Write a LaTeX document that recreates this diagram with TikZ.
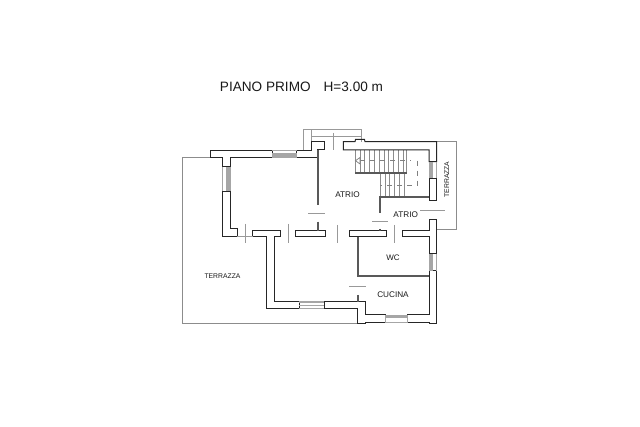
\documentclass[tikz,border=0pt]{standalone}
\usepackage{fontspec}
\setmainfont{Liberation Sans}
\usetikzlibrary{arrows.meta}
\tikzset{
  wall/.style={draw=black!85,line width=1pt,line join=miter},
  thick wall/.style={draw=black!65,line width=2pt},
  thin/.style={draw=black!40,line width=0.8pt},
  outline/.style={draw=black!45,line width=1pt},
  stair/.style={draw=black!45,line width=0.6pt},
  glass/.style={draw=black!35,line width=0.9pt},
  band/.style={fill=black!35,draw=none},
  walk/.style={draw=black!50,line width=0.7pt,dash pattern=on 5pt off 5pt},
  lbl/.style={inner sep=0pt,text=black!90}
}
\begin{document}
\begin{tikzpicture}[x=1pt,y=-1pt]
\useasboundingbox (0,0) rectangle (640,427);
\fill[white] (0,0) rectangle (640,427);
% terraces
\draw[outline] (210,157.7) -- (182,157.7) -- (182,324) -- (358,324);
\draw[outline] (436.7,141.7) -- (456,141.7) -- (456,229.3) -- (436.7,229.3);
% entrance balcony
\draw[thin] (303.3,150) -- (303.3,129.3) -- (361.7,129.3) -- (361.7,141.7);
\draw[thin] (311.3,129.3) -- (311.3,141.7);
\draw[thin] (311.3,136.4) -- (361.7,136.4);
% stairs treads
\foreach \x in {355,359.8,364.6,369.4,374.2,379,383.8,388.6,393.4,398.2,403,406.5}
  \draw[stair] (\x,150) -- (\x,172);
\foreach \x in {380,384.8,389.6,394.4,399.2,404}
  \draw[stair] (\x,174) -- (\x,196);
\draw[walk] (360,160.7) -- (411,160.7);
\draw[walk] (417.3,160.7) -- (417.3,185) -- (380,185);
\draw[draw=black!50,line width=0.7pt] (360,157.5) -- (355.5,160.7) -- (360,164) -- cycle;
% exterior walls
\draw[wall] (210,150.3) -- (272.3,150.3) -- (272.3,157.7) -- (230,157.7) -- (230,167) -- (222,167) -- (222,157.7) -- (210,157.7) -- cycle;
\draw[wall] (222,191.3) -- (230,191.3) -- (230,228.7) -- (237.3,228.7) -- (237.3,236.7) -- (222,236.7) -- cycle;
\draw[wall] (296.7,150.3) -- (311.3,150.3) -- (311.3,141.7) -- (324,141.7) -- (324,150) -- (317,150) -- (317,157.7) -- (296.7,157.7) -- cycle;
\draw[wall] (252.7,231) -- (280,231) -- (280,236.7) -- (274,236.7) -- (274,301.7) -- (299,301.7) -- (299,309) -- (266.7,309) -- (266.7,236.7) -- (252.7,236.7) -- cycle;
\draw[wall] (324,301.7) -- (365,301.7) -- (365,315) -- (385,315) -- (385,322.7) -- (365,322.7) -- (365,324) -- (357.3,324) -- (357.3,309) -- (324,309) -- cycle;
\draw[wall] (407.3,315) -- (429,315) -- (429,270.7) -- (436.7,270.7) -- (436.7,324) -- (429,324) -- (429,322.7) -- (407.3,322.7) -- cycle;
\draw[wall] (343.3,141.7) -- (355,141.7) -- (355.5,139.5) -- (364.5,139.5) -- (365,141.7) -- (436.7,141.7) -- (436.7,161.7) -- (429,161.7) -- (429,150) -- (343.3,150) -- cycle;
\draw[wall] (429,178.3) -- (436.7,178.3) -- (436.7,200.3) -- (429,200.3) -- cycle;
\draw[wall] (429,219.3) -- (436.7,219.3) -- (436.7,254) -- (429,254) -- (429,236.7) -- (402.3,236.7) -- (402.3,231) -- (429,231) -- cycle;
\draw[wall] (295.7,231) -- (325.7,231) -- (325.7,236.7) -- (295.7,236.7) -- cycle;
\draw[wall] (349.3,231) -- (386.7,231) -- (386.7,236.7) -- (349.3,236.7) -- cycle;
% interior heavy walls
\draw[thick wall] (318.3,150) -- (318.3,205);
\draw[thick wall] (318.3,221.7) -- (318.3,231);
\draw[thick wall] (355,172.7) -- (406.7,172.7);
\draw[thick wall] (380,197.3) -- (429,197.3);
\draw[thick wall] (380,196.3) -- (380,213.3);
\draw[thick wall] (358.3,236.7) -- (358.3,277);
\draw[thick wall] (358.3,275.7) -- (429,275.7);
\draw[thick wall] (358.3,295) -- (358.3,301.7);
\draw[draw=black!70,line width=1.2pt] (380,229) -- (380,231);
% windows
\draw[glass] (222,167) -- (222,191.3) (230,167) -- (230,191.3);
\fill[band] (226,167) rectangle (230,191.3);
\draw[glass] (272.3,150.5) -- (296.7,150.5);
\fill[band] (272.3,153.5) rectangle (296.7,157.7);
\fill[band] (429,161.7) rectangle (433,178.3);
\draw[glass] (436.7,161.7) -- (436.7,178.3);
\fill[band] (429,254) rectangle (433,270.7);
\draw[glass] (436.7,254) -- (436.7,270.7);
\fill[band] (299,301) rectangle (324,303);
\draw[glass] (299,305) -- (324,305) (299,308.5) -- (324,308.5);
\fill[band] (385,315) rectangle (407.3,318);
\draw[glass] (385,322.7) -- (407.3,322.7) (385,315) -- (385,322.7) (407.3,315) -- (407.3,322.7);
% door marks
\draw[thin] (245,224) -- (245,243);
\draw[thin] (288,224) -- (288,243);
\draw[thin] (337.7,225) -- (337.7,243);
\draw[thin] (394,225) -- (394,243);
\draw[thin] (237.3,236) -- (252.7,236);
\draw[thin] (333.3,133) -- (333.3,150);
\draw[thin] (308.3,213) -- (325,213);
\draw[thin] (372.3,221) -- (388.3,221);
\draw[thin] (349,286.7) -- (365.7,286.7);
\draw[thin] (420,210) -- (445,210);
% labels
\node[lbl,font=\fontsize{13.6pt}{15pt}\selectfont] (title) at (301.5,87) {PIANO PRIMO\hspace{13pt}H=3.00 m};
\node[lbl,font=\fontsize{8.2pt}{10pt}\selectfont] (atrioa) at (347.5,195) {ATRIO};
\node[lbl,font=\fontsize{8.2pt}{10pt}\selectfont] (atriob) at (405.7,215) {ATRIO};
\node[lbl,font=\fontsize{6.8pt}{8pt}\selectfont,rotate=90] (terb) at (446.7,179.5) {TERRAZZA};
\node[lbl,font=\fontsize{6.8pt}{8pt}\selectfont] (tera) at (222.5,276.3) {TERRAZZA};
\node[lbl,font=\fontsize{8pt}{10pt}\selectfont] (wc) at (393,257.5) {WC};
\node[lbl,font=\fontsize{8.2pt}{10pt}\selectfont] (cucina) at (393,295) {CUCINA};
\end{tikzpicture}
\end{document}
